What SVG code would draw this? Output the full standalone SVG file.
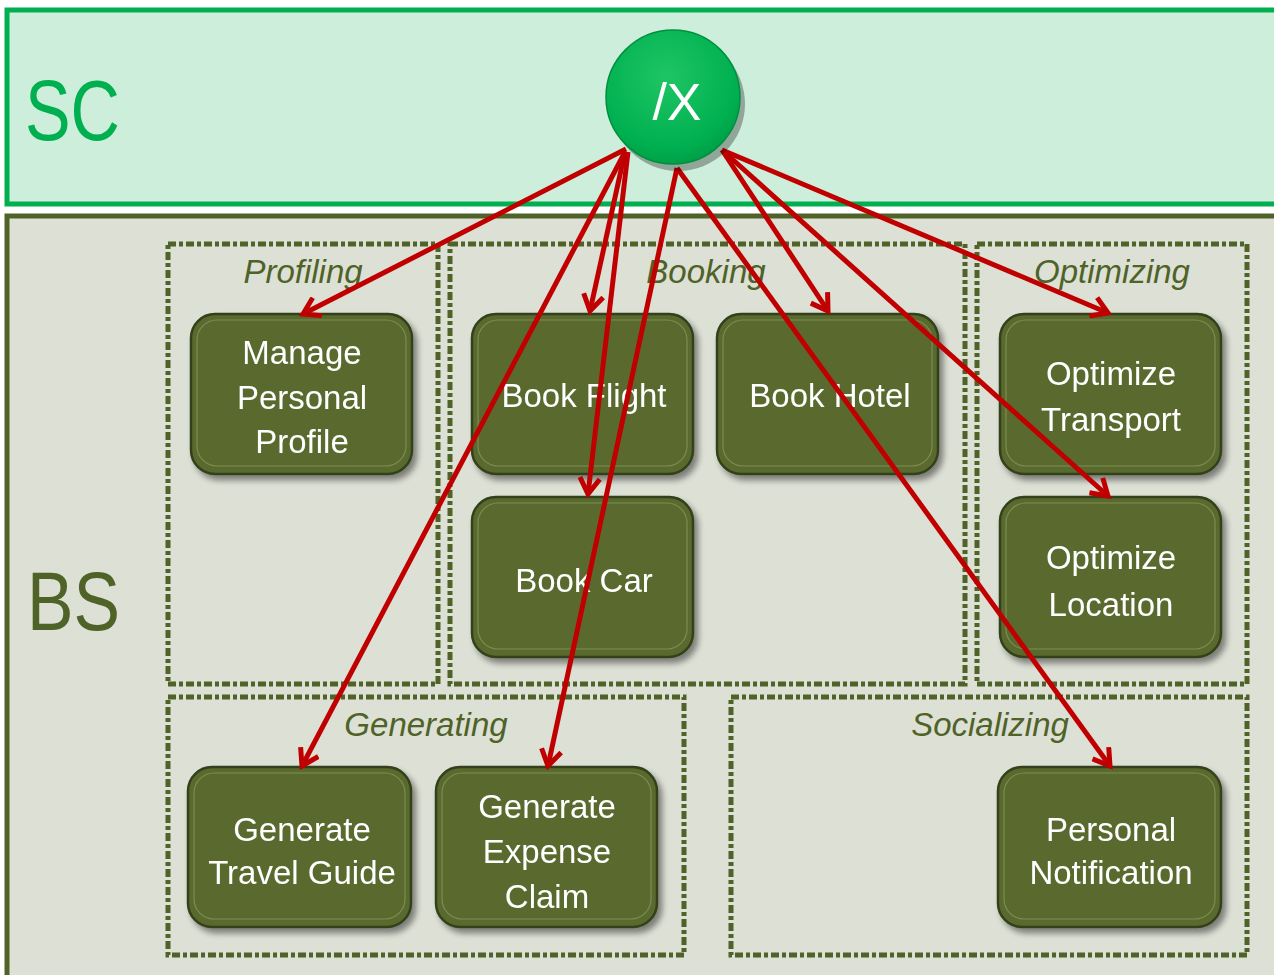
<svg xmlns="http://www.w3.org/2000/svg" width="1274" height="975" viewBox="0 0 1274 975">
<defs>
<style>
.node rect.b{fill:#5a6b2e;stroke:#33401a;stroke-width:2.5}
.node rect.i{fill:none;stroke:#7c8c52;stroke-width:1.2}
.node text{font-family:"Liberation Sans",Arial,sans-serif;font-size:33px;fill:#ffffff;text-anchor:middle}
.grp rect{fill:none;stroke:#4f6228;stroke-width:5;stroke-dasharray:8 3 4 3}
.grp text{font-family:"Liberation Sans",Arial,sans-serif;font-style:italic;font-size:33px;fill:#4f6228;text-anchor:middle}
.conn path{fill:none;stroke:#c00000;stroke-width:5;marker-end:url(#ah)}
</style>
<marker id="ah" viewBox="0 0 24 24" refX="19" refY="12" markerWidth="24" markerHeight="24" markerUnits="userSpaceOnUse" orient="auto">
<path d="M3,2 L19,12 L3,22" fill="none" stroke="#c00000" stroke-width="5" stroke-linejoin="miter"/>
</marker>
<filter id="sh" x="-10%" y="-10%" width="125%" height="130%">
<feGaussianBlur in="SourceAlpha" stdDeviation="3"/>
<feOffset dx="4" dy="5" result="o"/>
<feComponentTransfer><feFuncA type="linear" slope="0.45"/></feComponentTransfer>
<feMerge><feMergeNode/><feMergeNode in="SourceGraphic"/></feMerge>
</filter>
<radialGradient id="cg" cx="0.45" cy="0.35" r="0.7">
<stop offset="0" stop-color="#1fc564"/>
<stop offset="0.75" stop-color="#00b050"/>
<stop offset="1" stop-color="#009a44"/>
</radialGradient>
</defs>
<rect width="1274" height="975" fill="#ffffff"/>
<g id="sc">
<rect x="7" y="10" width="1290" height="194" fill="#cdeedb" stroke="#00b050" stroke-width="5"/>
<text x="25" y="140" font-family="Liberation Sans,Arial,sans-serif" font-size="86" fill="#00b050" textLength="95" lengthAdjust="spacingAndGlyphs">SC</text>
</g>
<g id="bs">
<rect x="7" y="216" width="1290" height="780" fill="#dde0d5" stroke="#4f6228" stroke-width="5"/>
<text x="27" y="630" font-family="Liberation Sans,Arial,sans-serif" font-size="84" fill="#4f6228" textLength="93" lengthAdjust="spacingAndGlyphs">BS</text>
</g>
<g class="grp" id="g-profiling"><rect x="168" y="244" width="270" height="440"/><text x="303" y="283">Profiling</text></g>
<g class="grp" id="g-booking"><rect x="450" y="244" width="515" height="440"/><text x="706" y="283">Booking</text></g>
<g class="grp" id="g-optimizing"><rect x="977" y="244" width="270" height="440"/><text x="1112" y="283">Optimizing</text></g>
<g class="grp" id="g-generating"><rect x="168" y="697" width="516" height="258"/><text x="426" y="736">Generating</text></g>
<g class="grp" id="g-socializing"><rect x="731" y="697" width="516" height="258"/><text x="990" y="736">Socializing</text></g>
<g class="node" id="n-mpp" filter="url(#sh)"><rect class="b" x="191" y="314" width="221" height="160" rx="24"/><rect class="i" x="197" y="320" width="209" height="146" rx="20"/><text x="302" y="364">Manage</text><text x="302" y="409">Personal</text><text x="302" y="453">Profile</text></g>
<g class="node" id="n-bf" filter="url(#sh)"><rect class="b" x="472" y="314" width="221" height="160" rx="24"/><rect class="i" x="478" y="320" width="209" height="146" rx="20"/><text x="584" y="407">Book Flight</text></g>
<g class="node" id="n-bh" filter="url(#sh)"><rect class="b" x="717" y="314" width="221" height="160" rx="24"/><rect class="i" x="723" y="320" width="209" height="146" rx="20"/><text x="830" y="407">Book Hotel</text></g>
<g class="node" id="n-bc" filter="url(#sh)"><rect class="b" x="472" y="497" width="221" height="160" rx="24"/><rect class="i" x="478" y="503" width="209" height="146" rx="20"/><text x="584" y="592">Book Car</text></g>
<g class="node" id="n-ot" filter="url(#sh)"><rect class="b" x="1000" y="314" width="221" height="160" rx="24"/><rect class="i" x="1006" y="320" width="209" height="146" rx="20"/><text x="1111" y="385">Optimize</text><text x="1111" y="431">Transport</text></g>
<g class="node" id="n-ol" filter="url(#sh)"><rect class="b" x="1000" y="497" width="221" height="160" rx="24"/><rect class="i" x="1006" y="503" width="209" height="146" rx="20"/><text x="1111" y="569">Optimize</text><text x="1111" y="616">Location</text></g>
<g class="node" id="n-gtg" filter="url(#sh)"><rect class="b" x="188" y="767" width="223" height="160" rx="24"/><rect class="i" x="194" y="773" width="211" height="146" rx="20"/><text x="302" y="841">Generate</text><text x="302" y="884">Travel Guide</text></g>
<g class="node" id="n-gec" filter="url(#sh)"><rect class="b" x="436" y="767" width="221" height="160" rx="24"/><rect class="i" x="442" y="773" width="209" height="146" rx="20"/><text x="547" y="818">Generate</text><text x="547" y="863">Expense</text><text x="547" y="908">Claim</text></g>
<g class="node" id="n-pn" filter="url(#sh)"><rect class="b" x="998" y="767" width="223" height="160" rx="24"/><rect class="i" x="1004" y="773" width="211" height="146" rx="20"/><text x="1111" y="841">Personal</text><text x="1111" y="884">Notification</text></g>
<g class="conn" id="connectors">
<path d="M626,149 L303,314"/>
<path d="M625,152 L590,311"/>
<path d="M628,152 L588,494"/>
<path d="M625,152 L302,766"/>
<path d="M677,168 L548,766"/>
<path d="M677,168 L1110,766"/>
<path d="M722,150 L828,311"/>
<path d="M722,150 L1108,496"/>
<path d="M722,150 L1108,313"/>
</g>
<g id="n-x">
<circle cx="675" cy="100" r="67" fill="#000" opacity="0.3" transform="translate(3,4)"/>
<circle cx="673" cy="97" r="67" fill="url(#cg)" stroke="#00903f" stroke-width="1.5"/>
<text x="677" y="120" font-family="Liberation Sans,Arial,sans-serif" font-size="52" fill="#ffffff" text-anchor="middle">/X</text>
</g>
</svg>
